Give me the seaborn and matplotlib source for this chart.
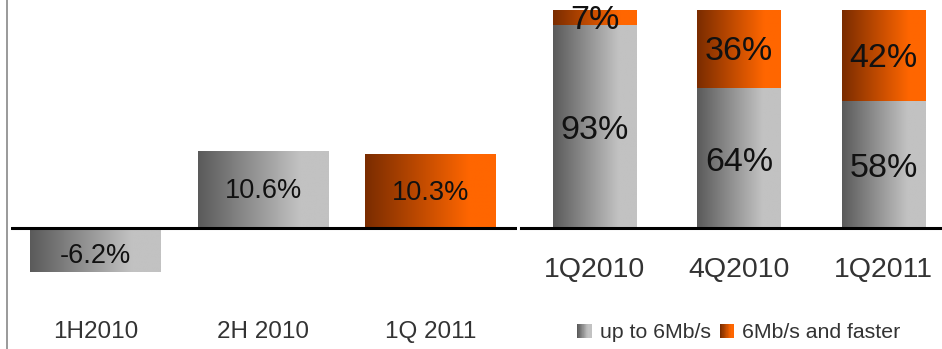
import numpy as np
import pandas as pd
import matplotlib
matplotlib.use("Agg")
import matplotlib.pyplot as plt
import seaborn as sns
from matplotlib.colors import LinearSegmentedColormap
from matplotlib.patches import Rectangle
from matplotlib.lines import Line2D
from matplotlib.legend_handler import HandlerBase

# --- data -------------------------------------------------------------
growth_periods = ["1H2010", "2H 2010", "1Q 2011"]
growth_values = [-6.2, 10.6, 10.3]
growth_labels = ["-6.2%", "10.6%", "10.3%"]

share_quarters = ["1Q2010", "4Q2010", "1Q2011"]
share_slow = [93, 64, 58]
share_fast = [7, 36, 42]
series_names = ["up to 6Mb/s", "6Mb/s and faster"]

# --- style ------------------------------------------------------------
sns.set_theme(style="white")
plt.rcParams["font.family"] = ["Liberation Sans", "DejaVu Sans"]

grey_cmap = LinearSegmentedColormap.from_list(
    "grey_grad", [(0, "#5a5a5a"), (0.78, "#c2c2c2"), (1, "#c2c2c2")])
orange_cmap = LinearSegmentedColormap.from_list(
    "orange_grad", [(0, "#7a2c00"), (0.8, "#ff6600"), (1, "#ff6600")])

W, H = 942, 349
fig = plt.figure(figsize=(W / 100, H / 100), dpi=100)


def px_axes(x0, y0, x1, y1):
    """Axes placed by pixel box (top-left origin)."""
    return fig.add_axes([x0 / W, 1 - y1 / H, (x1 - x0) / W, (y1 - y0) / H])


def gradient_fill(ax, patches, cmap):
    grad = np.linspace(0, 1, 256).reshape(1, -1)
    for p in patches:
        x, y = p.get_x(), p.get_y()
        w, h = p.get_width(), p.get_height()
        p.set_facecolor("none")
        p.set_edgecolor("none")
        ax.imshow(grad, cmap=cmap, extent=[x, x + w, y, y + h],
                  aspect="auto", interpolation="bilinear", zorder=p.get_zorder())


# --- left panel: growth ----------------------------------------------
axL = px_axes(11, 10, 517, 300)
dfL = pd.DataFrame({"period": growth_periods, "value": growth_values})
sns.barplot(data=dfL, x="period", y="value", ax=axL, width=0.78,
            color="#999999", saturation=1, errorbar=None)
left_patches = list(axL.patches)
for i, p in enumerate(left_patches):
    cmap = orange_cmap if i == 2 else grey_cmap
    gradient_fill(axL, [p], cmap)
    dy = -0.8 if growth_values[i] < 0 else -0.2
    axL.text(p.get_x() + p.get_width() / 2,
             p.get_y() + p.get_height() / 2 + dy,
             growth_labels[i], ha="center", va="center",
             fontsize=19.5, color="#111111", zorder=5)
axL.axhline(0, color="black", lw=2.2, zorder=4)
axL.set_xlim(-0.505, 2.515)
axL.set_ylim(-10.04, 30.4)
axL.set_xlabel("")
axL.set_ylabel("")
axL.set_yticks([])
axL.tick_params(axis="x", length=0, pad=15, labelsize=17.5, labelcolor="#333333")
for s in axL.spines.values():
    s.set_visible(False)

# --- right panel: broadband speed share --------------------------------
axR = px_axes(521, 10, 942, 228)
dfR = pd.DataFrame({"quarter": share_quarters,
                    "slow": share_slow,
                    "total": np.array(share_slow) + np.array(share_fast)})
sns.barplot(data=dfR, x="quarter", y="total", ax=axR, width=0.575,
            color="#ff6600", saturation=1, errorbar=None)
fast_patches = list(axR.patches)
sns.barplot(data=dfR, x="quarter", y="slow", ax=axR, width=0.575,
            color="#999999", saturation=1, errorbar=None)
slow_patches = [p for p in axR.patches if p not in fast_patches]
gradient_fill(axR, fast_patches, orange_cmap)
gradient_fill(axR, slow_patches, grey_cmap)

for i in range(len(share_quarters)):
    ps = slow_patches[i]
    cx = ps.get_x() + ps.get_width() / 2
    axR.text(cx, share_slow[i] / 2 - 1.8, f"{share_slow[i]}%",
             ha="center", va="center", fontsize=24.5, color="#111111", zorder=5)
    axR.text(cx, share_slow[i] + share_fast[i] / 2 - 1.2, f"{share_fast[i]}%",
             ha="center", va="center", fontsize=24.5, color="#111111", zorder=5)

axR.set_xlim(-0.509, 2.405)
axR.set_ylim(0, 100)
axR.set_xlabel("")
axR.set_ylabel("")
axR.set_yticks([])
axR.tick_params(axis="x", length=0, pad=21, labelsize=20.5, labelcolor="#333333")
for name, s in axR.spines.items():
    s.set_visible(name == "bottom")
axR.spines["bottom"].set_color("black")
axR.spines["bottom"].set_linewidth(2.2)


# --- legend with gradient swatches ------------------------------------
class GradientSwatch(HandlerBase):
    def __init__(self, cmap):
        super().__init__()
        self.cmap = cmap

    def create_artists(self, legend, orig_handle, xdescent, ydescent,
                       width, height, fontsize, trans):
        n = 24
        arts = []
        for k in range(n):
            r = Rectangle((-xdescent + width * k / n, -ydescent), width / n + 0.3,
                          height, facecolor=self.cmap(k / (n - 1)),
                          edgecolor="none", transform=trans)
            arts.append(r)
        return arts


h_slow = Rectangle((0, 0), 1, 1)
h_fast = Rectangle((0, 0), 1, 1)
fig.legend([h_slow, h_fast], series_names,
           handler_map={h_slow: GradientSwatch(grey_cmap),
                        h_fast: GradientSwatch(orange_cmap)},
           loc="center", bbox_to_anchor=(739 / W, 1 - 333 / H), ncol=2,
           frameon=False, fontsize=15.3, labelcolor="#333333",
           handlelength=0.65, handleheight=0.65, handletextpad=0.4,
           columnspacing=0.45, borderpad=0, borderaxespad=0)

# thin rule at the far left
fig.add_artist(Line2D([6.5 / W, 6.5 / W], [0, 1], color="#9a9a9a", lw=1.4,
                      transform=fig.transFigure))

fig.savefig("out.png", dpi=100)
